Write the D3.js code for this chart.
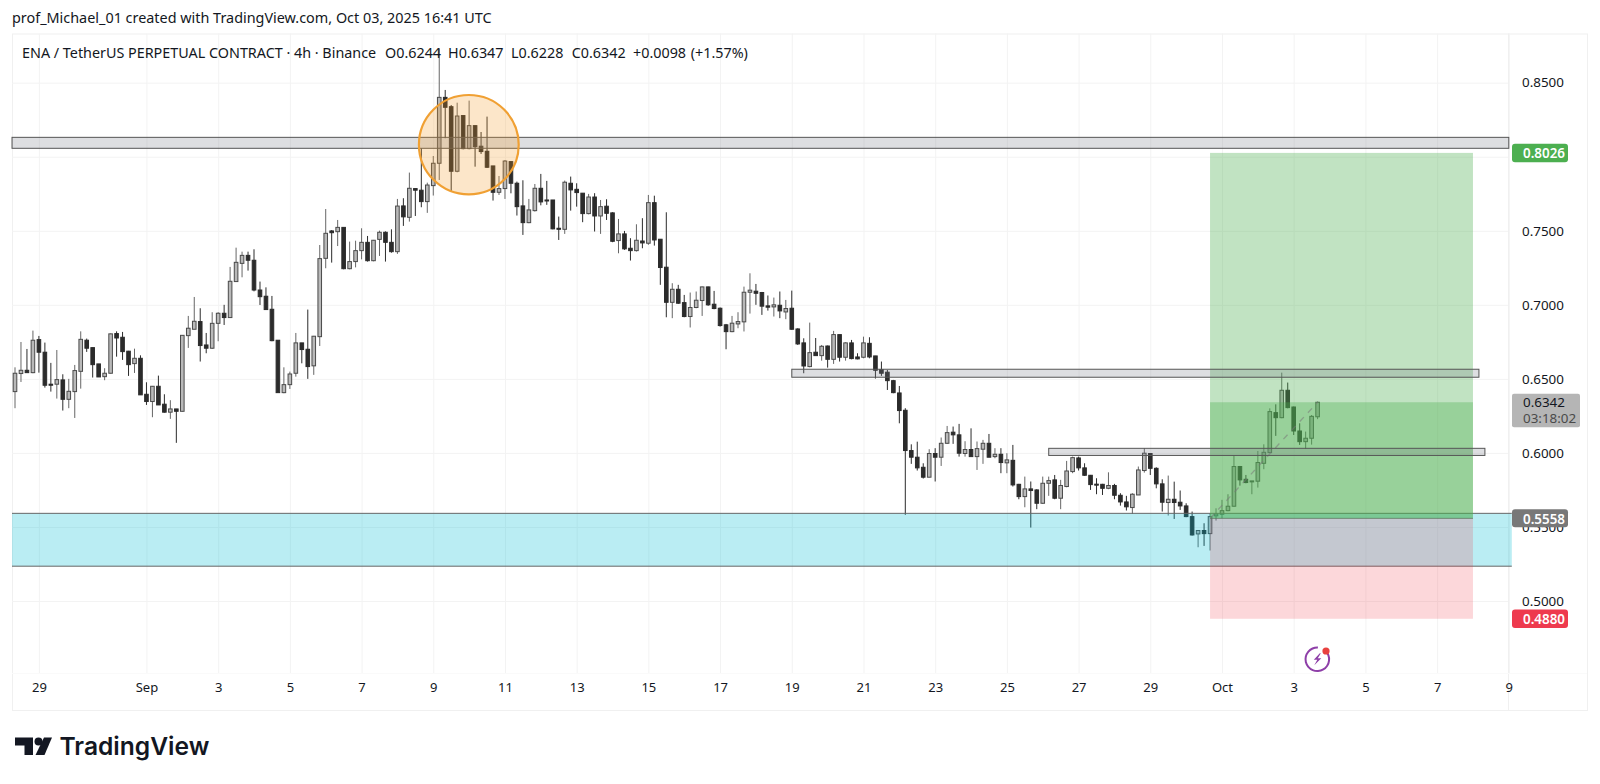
<!DOCTYPE html>
<html><head><meta charset="utf-8">
<script src="https://cdnjs.cloudflare.com/ajax/libs/d3/7.8.5/d3.min.js"></script>
<style>html,body{margin:0;padding:0;background:#fff;overflow:hidden}svg{display:block}text{font-family:"Noto Sans",sans-serif}</style>
</head><body><svg id="c" width="1600" height="784"></svg>
<script>
const firstCandle="2025-08-28T08:00:00Z", lastCandle="2025-10-03T16:00:00Z";
const opens=[
.6414,.6536,.6558,.6542,.6765,.6680,.6464,.6464,.6493,.6362,
.6414,.6551,.6761,.6711,.6601,.6515,.6538,.6806,.6781,.6687,
.6603,.6639,.6396,.6347,.6450,.6329,.6275,.6297,.6281,.6792,
.6835,.6887,.6729,.6707,.6875,.6943,.6914,.7157,.7280,.7334,
.7301,.7100,.7058,.6970,.6761,.6407,.6461,.6538,.6743,.6700,
.6588,.6785,.7314,.7499,.7494,.7523,.7244,.7292,.7366,.7422,
.7298,.7442,.7490,.7422,.7359,.7668,.7591,.7785,.7774,.7697,
.7805,.7956,.8401,.8338,.7902,.8278,.8055,.8210,.8071,.8037,
.7938,.7760,.7785,.7967,.7821,.7668,.7555,.7636,.7787,.7708,
.7708,.7517,.7510,.7821,.7780,.7754,.7616,.7728,.7600,.7666,
.7621,.7434,.7479,.7382,.7366,.7431,.7416,.7690,.7443,.7254,
.7017,.7105,.7015,.6921,.6982,.7029,.7121,.7004,.6977,.6865,
.6819,.6871,.6885,.7085,.7092,.7083,.6993,.6986,.6997,.6952,
.6977,.6837,.6743,.6583,.6680,.6657,.6722,.6632,.6799,.6646,
.6743,.6648,.6646,.6740,.6655,.6562,.6545,.6488,.6405,.6288,
.6016,.5971,.5903,.5836,.5996,.5971,.6065,.6140,.6122,.5996,
.6023,.5975,.6025,.6065,.5975,.5991,.5933,.5950,.5788,.5705,
.5757,.5750,.5660,.5795,.5818,.5694,.5773,.5874,.5966,.5899,
.5849,.5789,.5788,.5761,.5780,.5714,.5669,.5631,.5716,.5881,
.5996,.5896,.5791,.5665,.5687,.5667,.5642,.5570,.5453,.5476,
.5455,.5575,.5586,.5610,.5640,.5908,.5822,.5809,.5809,.5930,
.6002,.6272,.6238,.6423,.6310,.6148,.6076,.6099,.6244];
const closes=[
.6538,.6558,.6542,.6761,.6680,.6457,.6457,.6495,.6362,.6416,
.6556,.6767,.6707,.6596,.6513,.6538,.6804,.6776,.6684,.6596,
.6639,.6392,.6347,.6450,.6324,.6275,.6297,.6281,.6794,.6842,
.6889,.6725,.6707,.6875,.6943,.6914,.7159,.7287,.7334,.7301,
.7100,.7055,.6968,.6758,.6407,.6461,.6533,.6743,.6698,.6583,
.6788,.7312,.7483,.7487,.7523,.7244,.7292,.7366,.7422,.7298,
.7436,.7490,.7422,.7359,.7667,.7594,.7787,.7774,.7697,.7809,
.7956,.8401,.8334,.7902,.8275,.8055,.8210,.8068,.8035,.7929,
.7760,.7785,.7971,.7821,.7663,.7555,.7641,.7787,.7695,.7704,
.7513,.7510,.7828,.7776,.7758,.7616,.7728,.7600,.7663,.7618,
.7429,.7479,.7378,.7366,.7436,.7418,.7690,.7438,.7252,.7017,
.7105,.7011,.6921,.6982,.7031,.7121,.7000,.6975,.6860,.6819,
.6876,.6887,.7085,.7099,.7078,.6991,.6984,.7000,.6959,.6975,
.6835,.6736,.6587,.6677,.6657,.6720,.6632,.6799,.6646,.6743,
.6637,.6635,.6743,.6648,.6558,.6538,.6488,.6407,.6286,.6016,
.5971,.5899,.5836,.5996,.5971,.6065,.6137,.6122,.5998,.6023,
.5975,.6029,.6065,.5971,.5991,.5935,.5953,.5784,.5705,.5757,
.5746,.5660,.5795,.5813,.5694,.5780,.5878,.5968,.5899,.5849,
.5786,.5784,.5761,.5780,.5714,.5669,.5636,.5721,.5885,.5998,
.5896,.5791,.5667,.5687,.5665,.5642,.5570,.5446,.5476,.5455,
.5570,.5588,.5610,.5640,.5908,.5818,.5800,.5811,.5935,.6004,
.6279,.6238,.6423,.6306,.6148,.6076,.6099,.6247,.6342];
const highs=[
.6578,.6749,.6702,.6826,.6790,.6745,.6608,.6695,.6531,.6500,
.6594,.6821,.6772,.6711,.6601,.6572,.6806,.6821,.6817,.6689,
.6704,.6659,.6477,.6452,.6522,.6396,.6356,.6297,.6794,.6925,
.7053,.6977,.6810,.6950,.6950,.7000,.7256,.7386,.7359,.7359,
.7375,.7157,.7118,.7060,.6761,.6578,.6549,.6810,.6743,.6968,
.6790,.7404,.7647,.7505,.7573,.7523,.7427,.7433,.7517,.7465,
.7438,.7501,.7496,.7510,.7715,.7720,.7893,.7785,.8057,.7825,
.8005,.8732,.8451,.8349,.8365,.8278,.8379,.8210,.8167,.8271,
.7938,.7870,.7978,.7971,.7832,.7841,.7715,.7816,.7884,.7837,
.7708,.7596,.7839,.7866,.7821,.7754,.7749,.7754,.7708,.7713,
.7625,.7580,.7499,.7450,.7544,.7585,.7742,.7737,.7443,.7625,
.7146,.7135,.7067,.7083,.7090,.7123,.7123,.7094,.6982,.6871,
.6925,.6950,.7123,.7213,.7141,.7087,.7063,.7049,.7090,.7033,
.7096,.6842,.6774,.6880,.6776,.6729,.6725,.6824,.6799,.6747,
.6763,.6673,.6785,.6781,.6655,.6617,.6560,.6493,.6452,.6302,
.6058,.6076,.5930,.6025,.6032,.6104,.6182,.6178,.6196,.6079,
.6166,.6077,.6088,.6128,.6032,.6032,.5998,.6054,.5791,.5840,
.5807,.5755,.5840,.5840,.5851,.5818,.5946,.5975,.5975,.5930,
.5851,.5829,.5791,.5869,.5791,.5728,.5710,.5728,.5908,.6032,
.5998,.5903,.5822,.5847,.5806,.5746,.5660,.5604,.5476,.5525,
.5593,.5626,.5683,.5721,.5982,.5912,.5851,.5811,.6013,.6058,
.6301,.6328,.6542,.6475,.6313,.6200,.6144,.6256,.6347];
const lows=[
.6302,.6479,.6542,.6538,.6542,.6441,.6414,.6367,.6286,.6302,
.6236,.6434,.6682,.6509,.6513,.6491,.6536,.6650,.6628,.6520,
.6540,.6392,.6324,.6241,.6324,.6272,.6230,.6068,.6279,.6709,
.6835,.6617,.6673,.6702,.6754,.6864,.6914,.7157,.7186,.7231,
.7091,.6999,.6965,.6754,.6407,.6403,.6432,.6515,.6605,.6500,
.6527,.6722,.7247,.7285,.7397,.7240,.7240,.7253,.7307,.7292,
.7294,.7330,.7292,.7352,.7344,.7533,.7562,.7600,.7659,.7621,
.7738,.7843,.8125,.7765,.7895,.8050,.8050,.7933,.8019,.7924,
.7704,.7742,.7715,.7753,.7603,.7472,.7551,.7630,.7672,.7675,
.7510,.7438,.7479,.7636,.7663,.7558,.7611,.7495,.7479,.7573,
.7423,.7348,.7371,.7299,.7360,.7382,.7405,.7400,.7135,.6916,
.6910,.7006,.6916,.6847,.6977,.6925,.6993,.6970,.6853,.6700,
.6815,.6842,.6820,.6941,.7000,.6932,.6961,.6921,.6910,.6903,
.6831,.6729,.6538,.6578,.6657,.6623,.6576,.6601,.6617,.6623,
.6632,.6632,.6639,.6639,.6502,.6520,.6425,.6403,.6200,.5582,
.5926,.5881,.5827,.5836,.5807,.5912,.6061,.6061,.5975,.5975,
.5975,.5885,.5926,.5971,.5964,.5863,.5863,.5773,.5687,.5633,
.5496,.5620,.5656,.5710,.5687,.5620,.5768,.5863,.5881,.5845,
.5750,.5721,.5716,.5755,.5687,.5644,.5611,.5588,.5716,.5867,
.5851,.5761,.5604,.5577,.5554,.5615,.5566,.5442,.5363,.5372,
.5341,.5543,.5559,.5606,.5638,.5779,.5795,.5721,.5766,.5890,
.5998,.6115,.6234,.6301,.6121,.6054,.6027,.6056,.6228];

const priceTicks=[.85,.80,.75,.70,.65,.60,.55,.50];
const timeTickDates=["2025-08-29","2025-09-01","2025-09-03","2025-09-05","2025-09-07","2025-09-09","2025-09-11","2025-09-13","2025-09-15","2025-09-17","2025-09-19","2025-09-21","2025-09-23","2025-09-25","2025-09-27","2025-09-29","2025-10-01","2025-10-03","2025-10-05","2025-10-07","2025-10-09"];
const timeTickLabels=["29","Sep","3","5","7","9","11","13","15","17","19","21","23","25","27","29","Oct","3","5","7","9"];
const zoneBands=[
 {from:"2025-08-28T06:00:00Z",to:"2025-10-09T00:00:00Z",hi:.8131,lo:.8057},
 {from:"2025-09-19T00:00:00Z",to:"2025-10-08T04:00:00Z",hi:.6565,lo:.6511},
 {from:"2025-09-26T04:00:00Z",to:"2025-10-08T08:00:00Z",hi:.6031,lo:.5983}];
const demandZone={from:"2025-08-28T06:00:00Z",to:"2025-10-09T02:00:00Z",hi:.5592,lo:.5235};
const longPos={from:"2025-09-30T16:00:00Z",to:"2025-10-08T00:00:00Z",target:.8026,entry:.5558,stop:.4880,close:.6342,lastBar:"2025-10-03T16:00:00Z"};
const circleZone={from:"2025-09-08T14:24:00Z",to:"2025-09-11T09:12:00Z",hi:.8417,lo:.7746};
const headerText="prof_Michael_01 created with TradingView.com, Oct 03, 2025 16:41 UTC";
const titleText="ENA / TetherUS PERPETUAL CONTRACT · 4h · Binance";
const ohlcText=["O0.6244","H0.6347","L0.6228","C0.6342","+0.0098","(+1.57%)"];
const countdownText="03:18:02";

const svg=d3.select("#c");
const t=s=>new Date(s);
const x=d3.scaleUtc().domain([t(firstCandle),t(lastCandle)]).range([15,1317.6]);
const y=d3.scaleLinear().domain([.85,.5]).range([82.7,601]);
const candleTime=i=>new Date(+t(firstCandle)+i*4*3600*1000);
const idx=d3.range(opens.length);
const L=12,R=1587,T=33.5,B=710,AX=1508,TB=673;

svg.append("rect").attr("x",L+.5).attr("y",T+.5).attr("width",R-L).attr("height",B-T).attr("fill","#fff").attr("stroke","#f0f0f0");

const grid=svg.append("g");
grid.append("g").attr("transform",`translate(${L},0)`)
 .call(d3.axisRight(y).tickValues(priceTicks).tickSize(AX-L).tickFormat(""))
 .call(g=>g.select(".domain").remove()).selectAll("line").attr("stroke","#f3f3f3");
grid.append("g").attr("transform",`translate(0,${T})`)
 .call(d3.axisBottom(x).tickValues(timeTickDates.map(t)).tickSize(TB-T).tickFormat(""))
 .call(g=>g.select(".domain").remove()).selectAll("line").attr("stroke","#f3f3f3");
svg.append("line").attr("x1",AX+.5).attr("x2",AX+.5).attr("y1",T).attr("y2",B).attr("stroke","#f0f0f0");
svg.append("line").attr("x1",L).attr("x2",R).attr("y1",TB+.5).attr("y2",TB+.5).attr("stroke","#fafafa");

const UP_FILL="#b9b9b9",UP_LINE="#4a4a4a",UP_WICK="#666",DN="#2b2b2b";
const cg=svg.append("g");
cg.selectAll("line").data(idx).join("line")
 .attr("x1",i=>x(candleTime(i))).attr("x2",i=>x(candleTime(i)))
 .attr("y1",i=>y(highs[i])).attr("y2",i=>y(lows[i]))
 .attr("stroke",i=>closes[i]>=opens[i]?UP_WICK:DN).attr("stroke-width",1);
cg.selectAll("rect").data(idx).join("rect")
 .attr("x",i=>x(candleTime(i))-1.8).attr("width",3.6)
 .attr("y",i=>y(Math.max(opens[i],closes[i])))
 .attr("height",i=>Math.max(1,Math.abs(y(opens[i])-y(closes[i]))))
 .attr("fill",i=>closes[i]>=opens[i]?UP_FILL:DN)
 .attr("stroke",i=>closes[i]>=opens[i]?UP_LINE:DN).attr("stroke-width",1);

svg.append("rect").attr("x",x(t(demandZone.from))).attr("width",x(t(demandZone.to))-x(t(demandZone.from)))
 .attr("y",y(demandZone.hi)).attr("height",y(demandZone.lo)-y(demandZone.hi)).attr("fill","rgba(0,188,212,.27)");
[demandZone.hi,demandZone.lo].forEach(v=>svg.append("line").attr("x1",x(t(demandZone.from))).attr("x2",x(t(demandZone.to)))
 .attr("y1",y(v)).attr("y2",y(v)).attr("stroke","#666").attr("stroke-width",1));

const px0=x(t(longPos.from)),px1=x(t(longPos.to));
svg.append("rect").attr("x",px0).attr("width",px1-px0).attr("y",y(longPos.target)).attr("height",y(longPos.entry)-y(longPos.target)).attr("fill","rgba(76,175,80,.35)");
svg.append("rect").attr("x",px0).attr("width",px1-px0).attr("y",y(longPos.close)).attr("height",y(longPos.entry)-y(longPos.close)).attr("fill","rgba(76,175,80,.35)");
svg.append("rect").attr("x",px0).attr("width",px1-px0).attr("y",y(longPos.entry)).attr("height",y(longPos.stop)-y(longPos.entry)).attr("fill","rgba(242,54,69,.2)");
svg.append("line").attr("x1",px0).attr("x2",px1).attr("y1",y(longPos.entry)).attr("y2",y(longPos.entry)).attr("stroke","rgba(90,110,90,.7)").attr("stroke-width",1);
svg.append("line").attr("x1",px0).attr("y1",y(longPos.entry)).attr("x2",x(t(longPos.lastBar))).attr("y2",y(longPos.close))
 .attr("stroke","rgba(120,120,120,.55)").attr("stroke-width",1.3).attr("stroke-dasharray","6 6");

zoneBands.forEach(b=>svg.append("rect").attr("x",x(t(b.from))).attr("width",x(t(b.to))-x(t(b.from)))
 .attr("y",y(b.hi)).attr("height",y(b.lo)-y(b.hi)).attr("fill","rgba(120,123,134,.25)").attr("stroke","#555").attr("stroke-width",1));

const cx0=x(t(circleZone.from)),cx1=x(t(circleZone.to));
svg.append("ellipse").attr("cx",(cx0+cx1)/2).attr("cy",(y(circleZone.hi)+y(circleZone.lo))/2)
 .attr("rx",(cx1-cx0)/2).attr("ry",(y(circleZone.lo)-y(circleZone.hi))/2)
 .attr("fill","rgba(245,155,40,.25)").attr("stroke","#f0a033").attr("stroke-width",2.2);

const pa=svg.append("g").attr("transform",`translate(${AX},0)`)
 .call(d3.axisRight(y).tickValues(priceTicks).tickSize(0).tickPadding(14).tickFormat(d3.format(".4f")));
pa.select(".domain").remove();
pa.selectAll("text").attr("font-size",13.4).attr("fill","#131722").style("font-family",'"Noto Sans",sans-serif');
const ta=svg.append("g").attr("transform",`translate(0,${TB})`)
 .call(d3.axisBottom(x).tickValues(timeTickDates.map(t)).tickSize(0).tickPadding(10).tickFormat((d,i)=>timeTickLabels[i]));
ta.select(".domain").remove();
ta.selectAll("text").attr("font-size",13).attr("fill","#131722").style("font-family",'"Noto Sans",sans-serif');

function box(v,h,fill,col){
 const cy=y(v);
 svg.append("rect").attr("x",1512).attr("y",cy-h/2).attr("width",56).attr("height",h).attr("rx",3).attr("fill",fill);
 svg.append("text").attr("x",1523).attr("y",cy+.5).attr("dy",".35em").attr("font-size",13.4).attr("font-weight",600).attr("fill",col).text(d3.format(".4f")(v));
}
box(longPos.target,18.5,"#4caf50","#fff");
box(longPos.entry,18,"#787878","#fff");
box(longPos.stop,18.5,"#ee3a4e","#fff");
const cyc=y(longPos.close);
svg.append("rect").attr("x",1512).attr("y",cyc-8.5).attr("width",68).attr("height",33.5).attr("rx",2).attr("fill","#b5b5b5");
svg.append("text").attr("x",1523).attr("y",cyc+.5).attr("dy",".35em").attr("font-size",13.4).attr("fill","#131722").text(d3.format(".4f")(longPos.close));
svg.append("text").attr("x",1523).attr("y",cyc+16.5).attr("dy",".35em").attr("font-size",13.4).attr("fill","#4a4a4a").text(countdownText);

svg.append("text").attr("x",12).attr("y",23).attr("font-size",14.4).attr("fill","#131722").text(headerText);
svg.append("text").attr("x",22).attr("y",57.5).attr("font-size",14.35).attr("fill","#131722").text(titleText);
const ohlcX=[385,448,511,571.7,633,690.7];
ohlcText.forEach((s,i)=>svg.append("text").attr("x",ohlcX[i]).attr("y",57.5).attr("font-size",14.35).attr("fill","#131722").text(s));

const ic=svg.append("g").attr("transform","translate(1317.3,659.3)");
ic.append("path").attr("d",d3.arc()({innerRadius:10.8,outerRadius:12.8,startAngle:.75,endAngle:2*Math.PI+.05})).attr("fill","#8e3fa8");
ic.append("path").attr("d","M2.5,-6 L-3.5,0.5 L0,0.5 L-3,6 L4,-1 L0.5,-1 L3.5,-6 Z").attr("fill","#8e3fa8");
ic.append("circle").attr("cx",8.7).attr("cy",-8.3).attr("r",3.6).attr("fill","#e8413f");

const lg=svg.append("g").attr("fill","#131722");
lg.append("path").attr("d","M15,737.5 H33 V755 H24.5 V745.5 H15 Z");
lg.append("circle").attr("cx",38.5).attr("cy",741.5).attr("r",4);
lg.append("path").attr("d","M44,737.5 H52 L44.5,755 H35.5 Z");
svg.append("text").attr("x",59.5).attr("y",755).attr("font-size",24.6).attr("font-weight",600).style("font-family","Inter,sans-serif").attr("fill","#131722").text("TradingView");
</script></body></html>
